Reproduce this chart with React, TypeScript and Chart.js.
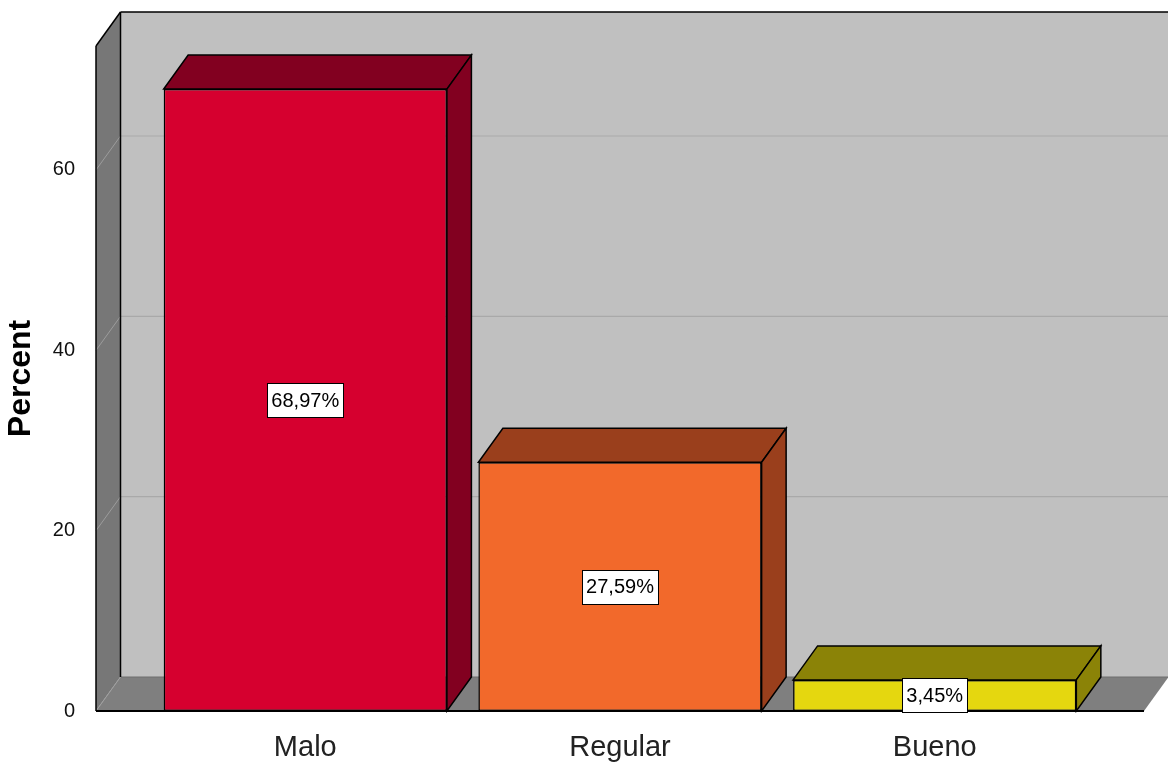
import React, { useEffect, useRef } from 'react';
import { Chart, registerables } from 'chart.js';

Chart.register(...registerables);

const categories = ['Malo', 'Regular', 'Bueno'];
const percentValues = [68.97, 27.59, 3.45];
const valueLabels = ['68,97%', '27,59%', '3,45%'];
const yTickValues = [0, 20, 40, 60];
const frontColors = ['#d6002f', '#f2692b', '#e5d70f'];
const sideColors = ['#820020', '#9a3f1c', '#8b8307'];

const DX = 24.5;
const DY = -34;
const SANS = "'Liberation Sans', Arial, sans-serif";

function poly(ctx: CanvasRenderingContext2D, pts: number[][], fill: string | null, stroke: string | null, lw = 1) {
  ctx.beginPath();
  ctx.moveTo(pts[0][0], pts[0][1]);
  for (let i = 1; i < pts.length; i++) ctx.lineTo(pts[i][0], pts[i][1]);
  ctx.closePath();
  if (fill) {
    ctx.fillStyle = fill;
    ctx.fill();
  }
  if (stroke) {
    ctx.strokeStyle = stroke;
    ctx.lineWidth = lw;
    ctx.stroke();
  }
}

function line(ctx: CanvasRenderingContext2D, x1: number, y1: number, x2: number, y2: number, color: string, lw = 1) {
  ctx.beginPath();
  ctx.moveTo(x1, y1);
  ctx.lineTo(x2, y2);
  ctx.strokeStyle = color;
  ctx.lineWidth = lw;
  ctx.stroke();
}

const threeD = {
  id: 'threeD',
  beforeDatasetsDraw(chart: any) {
    const { ctx, chartArea: a, scales } = chart;
    const y = scales.y;
    const L = a.left, R = a.right, T = a.top, B = a.bottom;
    ctx.save();
    // back wall
    poly(ctx, [[L + DX, T + DY], [R + DX, T + DY], [R + DX, B + DY], [L + DX, B + DY]], '#c0c0c0', null);
    // grid lines on back wall
    yTickValues.forEach((v) => {
      if (v === 0) return;
      const py = y.getPixelForValue(v);
      line(ctx, L + DX, py + DY, R + DX, py + DY, '#a9a9a9', 1.2);
    });
    // left wall
    poly(ctx, [[L, T], [L + DX, T + DY], [L + DX, B + DY], [L, B]], '#777777', null);
    yTickValues.forEach((v) => {
      const py = y.getPixelForValue(v);
      line(ctx, L, py, L + DX, py + DY, '#9c9c9c', 1);
    });
    // floor
    poly(ctx, [[L, B], [R, B], [R + DX, B + DY], [L + DX, B + DY]], '#7f7f7f', null);
    line(ctx, L + DX, B + DY, R + DX, B + DY, '#6f6f6f', 1);
    line(ctx, L, B, L + DX, B + DY, '#a0a0a0', 1);
    // edges
    line(ctx, L + DX, T + DY, R + DX, T + DY, '#000', 1.5);
    line(ctx, L, T, L + DX, T + DY, '#000', 1.5);
    line(ctx, L, T, L, B, '#000', 1.5);
    line(ctx, L + DX, T + DY, L + DX, B + DY, '#000', 1.5);
    line(ctx, L, B, R, B, '#000', 2);
    ctx.restore();
  },
  afterDatasetsDraw(chart: any) {
    const { ctx } = chart;
    const meta = chart.getDatasetMeta(0);
    ctx.save();
    meta.data.forEach((bar: any, i: number) => {
      const { x, y, base, width } = bar.getProps(['x', 'y', 'base', 'width'], true);
      const x1 = x - width / 2;
      const x2 = x + width / 2;
      // top face
      poly(ctx, [[x1, y], [x2, y], [x2 + DX, y + DY], [x1 + DX, y + DY]], sideColors[i], '#000', 1.5);
      // side face
      poly(ctx, [[x2, y], [x2 + DX, y + DY], [x2 + DX, base + DY], [x2, base]], sideColors[i], '#000', 1.5);
      // value label
      ctx.font = `20px ${SANS}`;
      const text = valueLabels[i];
      const tw = ctx.measureText(text).width;
      const cy = (y + base) / 2;
      const bw = Math.round(tw + 8);
      const bh = 34;
      const bx = Math.round(x - bw / 2);
      const by = Math.round(cy - bh / 2);
      ctx.fillStyle = '#ffffff';
      ctx.fillRect(bx, by, bw, bh);
      ctx.strokeStyle = '#000';
      ctx.lineWidth = 1;
      ctx.strokeRect(bx + 0.5, by + 0.5, bw, bh);
      ctx.fillStyle = '#000';
      ctx.textAlign = 'center';
      ctx.textBaseline = 'middle';
      ctx.fillText(text, x, cy + 1);
    });
    ctx.restore();
  },
};

export default function App() {
  const canvasRef = useRef<HTMLCanvasElement | null>(null);

  useEffect(() => {
    const canvas = canvasRef.current;
    if (!canvas) return;
    const chart = new Chart(canvas, {
      type: 'bar',
      data: {
        datasets: [
          {
            data: percentValues.map((v, i) => ({ x: i, y: v })),
            backgroundColor: frontColors,
            borderColor: '#000',
            borderWidth: 1.5,
            borderSkipped: false,
            barPercentage: 0.9,
            categoryPercentage: 1,
          },
        ],
      },
      options: {
        responsive: false,
        animation: false,
        maintainAspectRatio: false,
        layout: { padding: { top: 46, right: 24, left: 0, bottom: 0 } },
        plugins: {
          legend: { display: false },
          tooltip: { enabled: false },
        },
        scales: {
          x: {
            type: 'linear',
            offset: false,
            min: -0.665,
            max: 2.665,
            afterBuildTicks: (s: any) => {
              s.ticks = categories.map((_, i) => ({ value: i }));
            },
            ticks: {
              callback: (v: any) => categories[v] ?? '',
              font: { family: SANS, size: 29 },
              color: '#222',
              padding: 12,
              autoSkip: false,
              maxRotation: 0,
            },
            grid: { display: false, offset: false },
            border: { display: false },
            afterFit: (s: any) => {
              s.height = 52;
            },
          },
          y: {
            min: 0,
            max: 73.75,
            afterBuildTicks: (s: any) => {
              s.ticks = yTickValues.map((v) => ({ value: v }));
            },
            ticks: {
              font: { family: SANS, size: 20 },
              color: '#111',
              padding: 13,
            },
            grid: { display: false },
            border: { display: false },
            title: {
              display: true,
              text: 'Percent',
              color: '#000',
              font: { family: SANS, size: 32, weight: 'bold' },
              padding: { top: 2, bottom: 0 },
            },
            afterFit: (s: any) => {
              s.width = 96;
            },
          },
        },
      },
      plugins: [threeD],
    } as any);
    return () => chart.destroy();
  }, []);

  return (
    <div style={{ position: 'absolute', left: 0, top: 0, width: 1168, height: 763, background: '#fff' }}>
      <canvas ref={canvasRef} width={1168} height={763} style={{ display: 'block', width: 1168, height: 763 }} />
    </div>
  );
}
